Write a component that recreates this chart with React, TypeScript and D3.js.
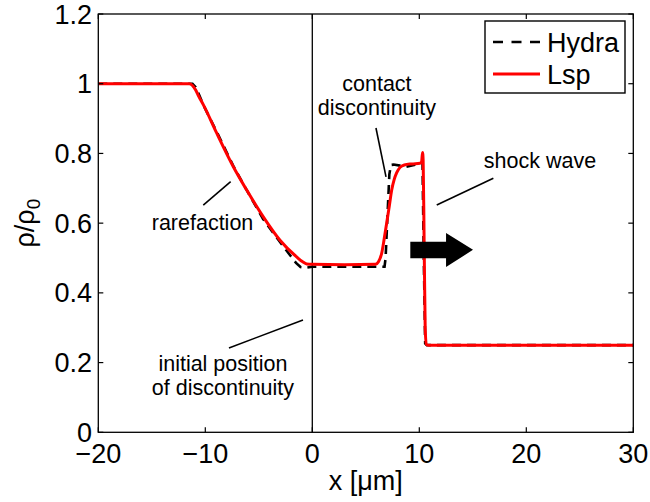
import React from "react";
import * as d3 from "d3";

const hydraX = [-20, -11.2, -10.9, -10.6, -10.2, -8.9, -7.4, -6.1, -4.6, -3.0, -2.0, -1.5, -1.1, -0.6, 0, 3, 6.75, 6.85, 7.2, 7.35, 7.6, 8.2, 8.8, 9.4, 10.1, 10.3, 10.42, 10.55, 10.7, 30];
const hydraY = [1, 1, 0.99, 0.97, 0.94, 0.86, 0.765, 0.693, 0.612, 0.545, 0.505, 0.485, 0.474, 0.472, 0.475, 0.475, 0.475, 0.5, 0.74, 0.767, 0.768, 0.765, 0.762, 0.766, 0.772, 0.774, 0.5, 0.255, 0.25, 0.25];

const lspX = [-20, -11.5, -11.2, -10.9, -10.6, -10.19, -8.93, -7.38, -6.13, -4.58, -3.02, -1.46, -0.9, -0.52, 0, 3, 5.9, 6.2, 6.48, 6.72, 6.95, 7.2, 7.42, 7.65, 7.89, 8.2, 8.6, 9.3, 10.07, 10.22, 10.3, 10.36, 10.45, 10.55, 10.65, 10.9, 20, 30];
const lspY = [1, 1, 0.995, 0.982, 0.963, 0.94, 0.858, 0.762, 0.695, 0.618, 0.551, 0.503, 0.489, 0.483, 0.482, 0.481, 0.482, 0.49, 0.513, 0.555, 0.6, 0.65, 0.695, 0.725, 0.745, 0.76, 0.767, 0.77, 0.772, 0.776, 0.803, 0.78, 0.55, 0.3, 0.252, 0.25, 0.25, 0.25];

const xTicks = [-20, -10, 0, 10, 20, 30];
const xTickLabels = ["\u221220", "\u221210", "0", "10", "20", "30"];
const yTicks = [0, 0.2, 0.4, 0.6, 0.8, 1, 1.2];
const yTickLabels = ["0", "0.2", "0.4", "0.6", "0.8", "1", "1.2"];

const seriesNames = ["Hydra", "Lsp"];

// annotations in data units
const annotations = [
  { lines: ["rarefaction"], tx: -10.26, ty: 0.58, x1: -10.19, y1: 0.652, x2: -7.63, y2: 0.719 },
  { lines: ["contact", "discontinuity"], tx: 6.04, ty: 0.979, x1: 5.95, y1: 0.873, x2: 6.89, y2: 0.733 },
  { lines: ["shock wave"], tx: 21.28, ty: 0.758, x1: 16.92, y1: 0.729, x2: 11.63, y2: 0.652 },
  { lines: ["initial position", "of discontinuity"], tx: -8.35, ty: 0.176, x1: -7.79, y1: 0.242, x2: -0.87, y2: 0.322 },
];

const arrowX = [9.16, 12.5, 15.02];
const arrowY = [0.499, 0.547, 0.474, 0.572, 0.5235];

const W = 650, H = 502;
const FONT = "'Liberation Sans', Arial, Helvetica, sans-serif";

export default function App() {
  const x = d3.scaleLinear().domain([-20, 30]).range([98.3, 633.3]);
  const y = d3.scaleLinear().domain([0, 1.2]).range([432.3, 14]);
  const [x0, x1] = x.range();
  const [y0, y1] = y.range();

  const line = d3.line<[number, number]>().x(d => x(d[0])).y(d => y(d[1]));
  const lineSmooth = d3.line<[number, number]>().x(d => x(d[0])).y(d => y(d[1])).curve(d3.curveMonotoneX);
  const hydra = hydraX.map((v, i) => [v, hydraY[i]] as [number, number]);
  const lsp = lspX.map((v, i) => [v, lspY[i]] as [number, number]);

  const arrowPts: [number, number][] = [
    [arrowX[0], arrowY[1]], [arrowX[1], arrowY[1]], [arrowX[1], arrowY[3]], [arrowX[2], arrowY[4]],
    [arrowX[1], arrowY[2]], [arrowX[1], arrowY[0]], [arrowX[0], arrowY[0]],
  ];
  const arrowPath = d3.line<[number, number]>().x(d => x(d[0])).y(d => y(d[1]))(arrowPts) + "Z";

  const tl = 5;
  return (
    <svg width={W} height={H} style={{ position: "absolute", left: 0, top: 0, background: "#fff" }} fontFamily={FONT}>
      <rect x={0} y={0} width={W} height={H} fill="#fff" />
      {/* vertical line at x=0 */}
      <line x1={x(0)} x2={x(0)} y1={y(0)} y2={y(1.2)} stroke="#000" strokeWidth={1.3} />
      {/* data */}
      <path d={line(hydra) || ""} fill="none" stroke="#000" strokeWidth={2.6} strokeDasharray="9,6" />
      <path d={lineSmooth(lsp) || ""} fill="none" stroke="#ff0000" strokeWidth={3} strokeLinejoin="round" />
      {/* annotations */}
      {annotations.map((a, i) => (
        <g key={i}>
          <line x1={x(a.x1)} y1={y(a.y1)} x2={x(a.x2)} y2={y(a.y2)} stroke="#000" strokeWidth={1.6} />
          {a.lines.map((t, j) => (
            <text key={j} x={x(a.tx)} y={y(a.ty) + j * 24} textAnchor="middle" fontSize={21.5} fill="#000">{t}</text>
          ))}
        </g>
      ))}
      <path d={arrowPath} fill="#000" />
      {/* axes box */}
      <rect x={x0} y={y1} width={x1 - x0} height={y0 - y1} fill="none" stroke="#000" strokeWidth={1.3} />
      {xTicks.map((t, i) => (
        <g key={"xt" + i}>
          <line x1={x(t)} x2={x(t)} y1={y0} y2={y0 - tl} stroke="#000" strokeWidth={1.2} />
          <line x1={x(t)} x2={x(t)} y1={y1} y2={y1 + tl} stroke="#000" strokeWidth={1.2} />
          <text x={x(t)} y={463} textAnchor="middle" fontSize={27}>{xTickLabels[i]}</text>
        </g>
      ))}
      {yTicks.map((t, i) => (
        <g key={"yt" + i}>
          <line x1={x0} x2={x0 + tl} y1={y(t)} y2={y(t)} stroke="#000" strokeWidth={1.2} />
          <line x1={x1} x2={x1 - tl} y1={y(t)} y2={y(t)} stroke="#000" strokeWidth={1.2} />
          <text x={92} y={y(t) + 9.5} textAnchor="end" fontSize={27}>{yTickLabels[i]}</text>
        </g>
      ))}
      {/* axis labels */}
      <text x={(x0 + x1) / 2} y={490} textAnchor="middle" fontSize={27}>x [{"\u03bc"}m]</text>
      <text transform={`translate(34, ${(y0 + y1) / 2}) rotate(-90)`} textAnchor="middle" fontSize={27}>
        {"\u03c1/\u03c1"}<tspan fontSize={19} dy={6}>0</tspan>
      </text>
      {/* legend */}
      <rect x={485} y={21} width={140} height={72} fill="#fff" stroke="#000" strokeWidth={1.4} />
      <line x1={493} x2={540} y1={42} y2={42} stroke="#000" strokeWidth={2.6} strokeDasharray="10,8.5" />
      <line x1={493} x2={540} y1={74} y2={74} stroke="#ff0000" strokeWidth={3} />
      <text x={547} y={52} fontSize={27}>{seriesNames[0]}</text>
      <text x={547} y={84} fontSize={27}>{seriesNames[1]}</text>
    </svg>
  );
}
